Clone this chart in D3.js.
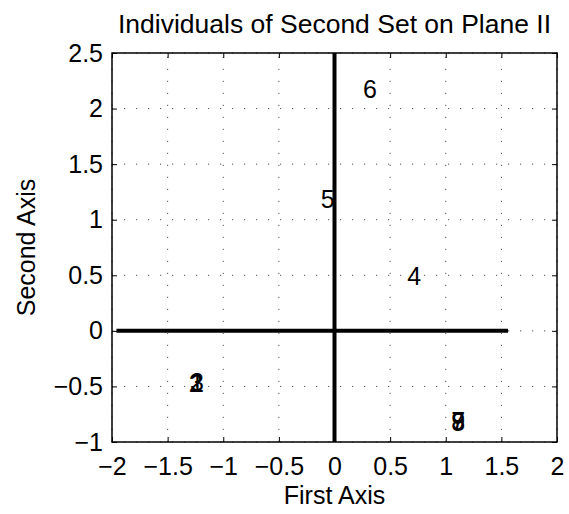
<!DOCTYPE html>
<html>
<head>
<meta charset="utf-8">
<script src="https://cdn.jsdelivr.net/npm/d3@7"></script>
<style>
  body { margin: 0; background: #fff; }
  svg { display: block; font-family: "Liberation Sans", Arial, sans-serif; }
</style>
</head>
<body>
<div id="chart"></div>
<script>
// labels of individuals and their coordinates on the plane
const labels = ["1", "2", "3", "4", "5", "6", "7", "8", "9"];
const firstAxis = [-1.30, -1.31, -1.30, 0.655, -0.123, 0.257, 1.05, 1.05, 1.05];
const secondAxis = [-0.47, -0.47, -0.46, 0.49, 1.18, 2.17, -0.81, -0.82, -0.81];

const xTicks = [-2, -1.5, -1, -0.5, 0, 0.5, 1, 1.5, 2];
const yTicks = [-1, -0.5, 0, 0.5, 1, 1.5, 2, 2.5];
// extent of the thick reference axes
const hAxisExtent = [-1.96, 1.56];
const vAxisExtent = [-1, 2.5];

const width = 569, height = 514;
const margin = { top: 53, right: 12, bottom: 72, left: 112 };
const fontSize = 25;

const svg = d3.select("#chart")
  .append("svg")
  .attr("width", width)
  .attr("height", height);

const x = d3.scaleLinear().domain([-2, 2]).range([margin.left, width - margin.right]);
const y = d3.scaleLinear().domain([-1, 2.5]).range([height - margin.bottom, margin.top]);

const fmt = d => (d < 0 ? "\u2212" + Math.abs(d) : String(d));

// grid
const grid = svg.append("g").attr("stroke", "#555").attr("stroke-width", 1)
  .attr("stroke-dasharray", "1.2,10.8");
xTicks.forEach(t => {
  grid.append("line")
    .attr("x1", x(t)).attr("x2", x(t))
    .attr("y1", y.range()[0]).attr("y2", y.range()[1]);
});
yTicks.forEach(t => {
  grid.append("line")
    .attr("x1", x.range()[0]).attr("x2", x.range()[1])
    .attr("y1", y(t)).attr("y2", y(t));
});

// thick axes through the origin
svg.append("line")
  .attr("x1", x(hAxisExtent[0])).attr("x2", x(hAxisExtent[1]))
  .attr("y1", y(0)).attr("y2", y(0))
  .attr("stroke", "black").attr("stroke-width", 4);
svg.append("line")
  .attr("x1", x(0)).attr("x2", x(0))
  .attr("y1", y(vAxisExtent[0])).attr("y2", y(vAxisExtent[1]))
  .attr("stroke", "black").attr("stroke-width", 4);

// axes with inward ticks
const tickLen = 5;
svg.append("g")
  .attr("transform", `translate(0,${y.range()[0]})`)
  .call(d3.axisBottom(x).tickValues(xTicks).tickFormat(fmt).tickSizeInner(-tickLen).tickSizeOuter(0).tickPadding(15))
  .call(g => g.select(".domain").remove());
svg.append("g")
  .attr("transform", `translate(0,${y.range()[1]})`)
  .call(d3.axisTop(x).tickValues(xTicks).tickFormat("").tickSizeInner(-tickLen).tickSizeOuter(0))
  .call(g => g.select(".domain").remove());
svg.append("g")
  .attr("transform", `translate(${x.range()[0]},0)`)
  .call(d3.axisLeft(y).tickValues(yTicks).tickFormat(fmt).tickSizeInner(-tickLen).tickSizeOuter(0).tickPadding(9))
  .call(g => g.select(".domain").remove());
svg.append("g")
  .attr("transform", `translate(${x.range()[1]},0)`)
  .call(d3.axisRight(y).tickValues(yTicks).tickFormat("").tickSizeInner(-tickLen).tickSizeOuter(0))
  .call(g => g.select(".domain").remove());

svg.selectAll(".tick line").attr("stroke", "black").attr("stroke-width", 1);
svg.selectAll(".tick text")
  .attr("font-family", "Liberation Sans, Arial, sans-serif")
  .attr("font-size", fontSize)
  .attr("fill", "black");

// box
svg.append("rect")
  .attr("x", x.range()[0]).attr("y", y.range()[1])
  .attr("width", x.range()[1] - x.range()[0])
  .attr("height", y.range()[0] - y.range()[1])
  .attr("fill", "none").attr("stroke", "black").attr("stroke-width", 1.5);

// point labels
svg.append("g").selectAll("text")
  .data(labels)
  .join("text")
  .attr("x", (d, i) => x(firstAxis[i]))
  .attr("y", (d, i) => y(secondAxis[i]))
  .attr("dy", "0.35em")
  .attr("font-size", fontSize)
  .attr("fill", "black")
  .text(d => d);

// titles
svg.append("text")
  .attr("x", (x.range()[0] + x.range()[1]) / 2)
  .attr("y", 33)
  .attr("text-anchor", "middle")
  .attr("font-size", 26.5)
  .text("Individuals of Second Set on Plane II");

svg.append("text")
  .attr("x", (x.range()[0] + x.range()[1]) / 2)
  .attr("y", 504)
  .attr("text-anchor", "middle")
  .attr("font-size", fontSize)
  .text("First Axis");

svg.append("text")
  .attr("transform", `translate(35,${(y.range()[0] + y.range()[1]) / 2}) rotate(-90)`)
  .attr("text-anchor", "middle")
  .attr("font-size", fontSize)
  .text("Second Axis");
</script>
</body>
</html>
